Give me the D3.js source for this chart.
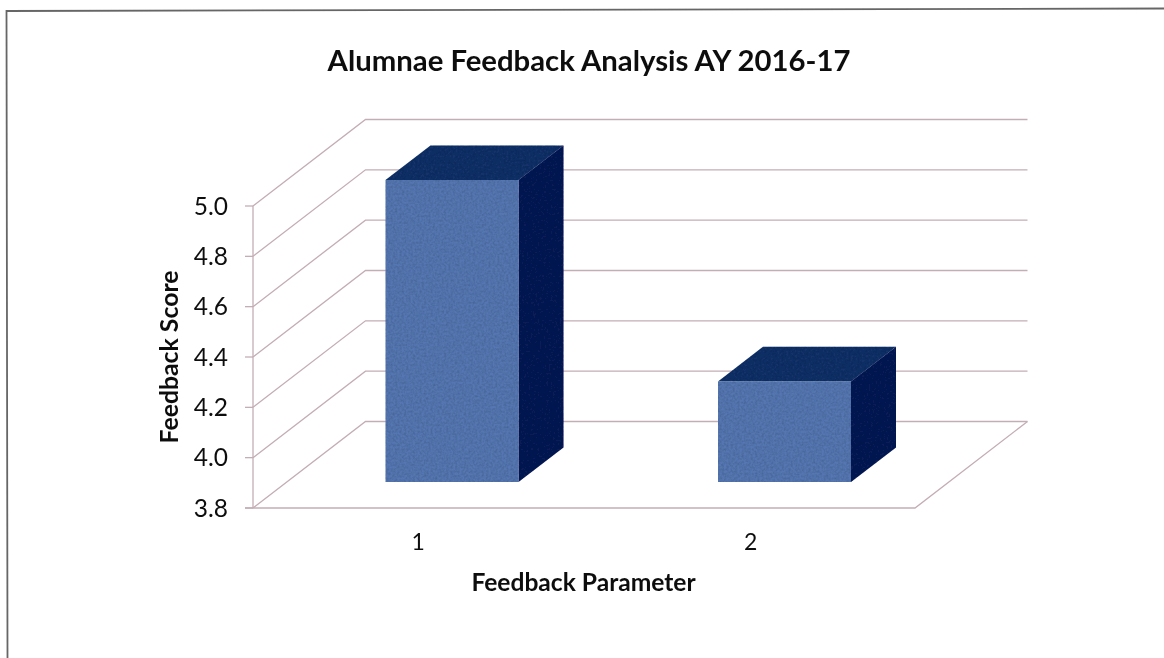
<!DOCTYPE html>
<html>
<head>
<meta charset="utf-8">
<script src="https://cdn.jsdelivr.net/npm/d3@7"></script>
<style>
html,body{margin:0;padding:0;background:#fff;}
svg{display:block;}
text{font-family:Lato,"Noto Sans",sans-serif;fill:#111;}
</style>
</head>
<body>
<svg id="chart" width="1164" height="658"></svg>
<script>
const categories = ["1", "2"];
const scores = [5.0, 4.2];
const yTicks = [3.8, 4.0, 4.2, 4.4, 4.6, 4.8, 5.0];
const titleText = "Alumnae Feedback Analysis AY 2016-17";
const xTitle = "Feedback Parameter";
const yTitle = "Feedback Score";

const svg = d3.select("#chart");
const defs = svg.append("defs");
const soft = defs.append("filter").attr("id", "soft");
soft.append("feGaussianBlur").attr("stdDeviation", 0.45);
const grain = defs.append("filter").attr("id", "grain").attr("x", 0).attr("y", 0).attr("width", 1).attr("height", 1);
grain.append("feTurbulence").attr("type", "fractalNoise").attr("baseFrequency", 0.45).attr("numOctaves", 2).attr("seed", 4).attr("result", "n");
grain.append("feColorMatrix").attr("in", "n").attr("type", "matrix")
  .attr("values", "0 0 0 0 0  0 0 0 0 0  0 0 0 0 0  0.5 0 0 0 -0.17").attr("result", "m");
grain.append("feComposite").attr("in", "m").attr("in2", "SourceAlpha").attr("operator", "in").attr("result", "c");
const merge = grain.append("feMerge");
merge.append("feMergeNode").attr("in", "SourceGraphic");
merge.append("feMergeNode").attr("in", "c");

const root = svg.append("g").attr("filter", "url(#soft)");
const gridColor = "#c4aeb5";
const depthX = 112.5, depthY = -86.5;
const barNear = 0.30, barFar = 0.70;
const floorLeft = 253, floorRight = 915;

const x = d3.scaleBand().domain(categories).range([252, 917]).paddingInner(0.6).paddingOuter(0.3);
const y = d3.scaleLinear().domain([3.8, 5.0]).range([508, 206]);
const px = (xv, d) => xv + depthX * d;
const py = (yv, d) => yv + depthY * d;

// Outer frame
root.append("path")
  .attr("d", d3.line()([[7.5, 660], [6.5, 11], [1166, 8.5]]))
  .attr("fill", "none").attr("stroke", "#666").attr("stroke-width", 1.8);

// Walls: back gridlines and side diagonals
const grid = root.append("g").attr("fill", "none").attr("stroke", gridColor).attr("stroke-width", 1.3);
yTicks.forEach(t => {
  const y0 = y(t);
  grid.append("path").attr("d", d3.line()([
    [px(floorLeft, 0), y0], [px(floorLeft, 1), py(y0, 1)], [px(floorRight, 1), py(y0, 1)]
  ]));
  grid.append("line").attr("x1", 245).attr("x2", floorLeft).attr("y1", y0).attr("y2", y0);
});
grid.append("line").attr("x1", floorLeft).attr("x2", floorLeft).attr("y1", y(5.0)).attr("y2", y(3.8));
grid.append("path").attr("d", d3.line()([
  [245, y(3.8)], [floorRight, y(3.8)], [px(floorRight, 1), py(y(3.8), 1)]
]));

// 3D bars
const poly = d3.line();
categories.forEach((c, i) => {
  const x0 = x(c), x1 = x0 + x.bandwidth();
  const top = y(scores[i]), base = y(3.8);
  const g = root.append("g");
  g.append("path").attr("fill", "#153368").attr("filter", "url(#grain)").attr("d", poly([
    [px(x0, barNear), py(top, barNear)], [px(x1, barNear), py(top, barNear)],
    [px(x1, barFar), py(top, barFar)], [px(x0, barFar), py(top, barFar)]
  ]) + "Z");
  g.append("path").attr("fill", "#071b55").attr("filter", "url(#grain)").attr("d", poly([
    [px(x1, barNear), py(top, barNear)], [px(x1, barFar), py(top, barFar)],
    [px(x1, barFar), py(base, barFar)], [px(x1, barNear), py(base, barNear)]
  ]) + "Z");
  g.append("path").attr("fill", "#5476b0").attr("filter", "url(#grain)").attr("d", poly([
    [px(x0, barNear), py(top, barNear)], [px(x1, barNear), py(top, barNear)],
    [px(x1, barNear), py(base, barNear)], [px(x0, barNear), py(base, barNear)]
  ]) + "Z");
});

// Tick labels
root.append("g").selectAll("text").data(yTicks).join("text")
  .attr("x", 228).attr("y", d => y(d) + 8.5)
  .attr("text-anchor", "end").attr("font-size", 24.5)
  .text(d => d.toFixed(1));
root.append("g").selectAll("text").data(categories).join("text")
  .attr("x", d => x(d) + x.bandwidth() / 2).attr("y", 550)
  .attr("text-anchor", "middle").attr("font-size", 23)
  .text(d => d);

// Titles
root.append("text").attr("x", 589).attr("y", 71).attr("text-anchor", "middle")
  .attr("font-size", 29.3).attr("font-weight", 700).text(titleText);
root.append("text").attr("x", 583.5).attr("y", 591).attr("text-anchor", "middle")
  .attr("font-size", 24.6).attr("font-weight", 700).text(xTitle);
root.append("text").attr("transform", "translate(178,357) rotate(-90)").attr("text-anchor", "middle")
  .attr("font-size", 24.8).attr("font-weight", 700).text(yTitle);
</script>
</body>
</html>
